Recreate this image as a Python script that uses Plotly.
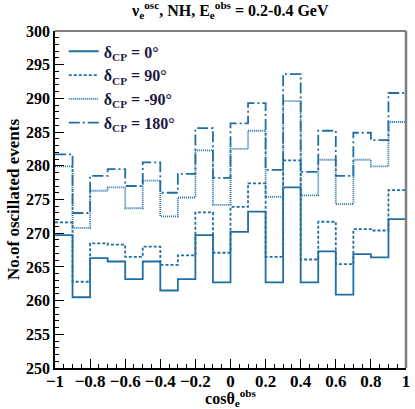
import numpy as np
import plotly.graph_objects as go

# Bin edges in cos(theta_e^obs): 20 bins of width 0.1
bin_edges = [round(-1 + 0.1 * i, 1) for i in range(21)]

# Oscillated nu_e event counts per bin for each delta_CP
events_dcp0 = [269.7, 260.5, 266.3, 265.8, 263.2, 265.8, 261.5, 263.2, 269.7, 262.7,
               270.2, 273.2, 262.7, 276.8, 262.7, 267.3, 260.9, 266.9, 266.4, 272.1]
events_dcp90 = [271.6, 262.8, 268.5, 268.3, 266.5, 268.0, 265.3, 266.7, 273.1, 267.1,
                273.9, 277.4, 266.5, 280.8, 266.1, 271.7, 265.4, 270.6, 270.4, 276.4]
events_dcpm90 = [279.9, 270.8, 276.3, 276.8, 273.7, 277.8, 272.5, 275.3, 282.3, 274.2,
                 282.5, 285.2, 275.4, 289.6, 275.6, 280.9, 274.3, 280.9, 279.9, 286.5]
events_dcp180 = [281.7, 273.0, 278.5, 279.5, 277.0, 280.5, 276.0, 278.8, 285.6, 278.2,
                 286.3, 289.3, 279.4, 293.6, 279.1, 285.2, 278.5, 284.9, 283.8, 290.8]

series_labels = ["δ<sub>CP</sub> = 0°", "δ<sub>CP</sub> = 90°",
                 "δ<sub>CP</sub> = -90°", "δ<sub>CP</sub> = 180°"]

line_color = "#1f6fa3"
serif = "Liberation Serif, Times New Roman, serif"
dash_styles = ["solid", "3px,2px", "1px,1px", "11px,3px,2px,3px"]

fig = go.Figure()
for i, (label, vals) in enumerate(zip(series_labels,
                                      [events_dcp0, events_dcp90, events_dcpm90, events_dcp180])):
    fig.add_trace(go.Scatter(
        x=bin_edges,
        y=list(vals) + [vals[-1]],
        mode="lines",
        line=dict(shape="hv", color=line_color, width=1.8, dash=dash_styles[i]),
        name=label,
        legendgroup=f"g{i}",
    ))

fig.update_layout(
    width=415, height=409,
    margin=dict(l=55, r=5, t=31, b=41),
    paper_bgcolor="white", plot_bgcolor="white",
    title=dict(
        text="ν<sub>e</sub><sup>osc</sup>, NH, E<sub>e</sub><sup>obs</sup> = 0.2-0.4 GeV",
        x=0.555, xanchor="center", y=0.975, yanchor="middle",
        font=dict(family=serif, size=16, color="black", weight="bold"),
    ),
    showlegend=True,
    legend=dict(
        x=0.025, y=0.99, xanchor="left", yanchor="top",
        bgcolor="rgba(0,0,0,0)",
        font=dict(family=serif, size=16, color="#1a1a40", weight="bold"),
        tracegroupgap=0,
        itemwidth=30,
    ),
    xaxis=dict(
        range=[-1, 1], dtick=0.2, tick0=-1,
        ticks="inside", ticklen=9, tickwidth=1, tickcolor="black",
        minor=dict(dtick=0.05, ticks="inside", ticklen=4.5, tickcolor="black"),
        showline=True, linecolor="black", linewidth=1.5, mirror=False,
        showgrid=False, zeroline=False,
        ticklabelstandoff=-3,
        tickfont=dict(family=serif, size=17, color="black", weight="bold"),
        title=dict(text="cosθ<sub>e</sub><sup>obs</sup>", standoff=0,
                   font=dict(family=serif, size=16, color="black", weight="bold")),
    ),
    yaxis=dict(
        range=[250, 300], dtick=5, tick0=250,
        ticks="inside", ticklen=9, tickwidth=1, tickcolor="black",
        minor=dict(dtick=1, ticks="inside", ticklen=4.5, tickcolor="black"),
        showline=True, linecolor="black", linewidth=1.5, mirror=False,
        showgrid=False, zeroline=False,
        ticklabelstandoff=0,
        tickfont=dict(family=serif, size=16, color="black", weight="bold"),
        title=dict(text="No.of oscillated events", standoff=2,
                   font=dict(family=serif, size=17, color="black", weight="bold")),
    ),
)

# Frame: thin top edge and a grey right edge
fig.add_shape(type="line", xref="paper", yref="paper", x0=0, x1=1, y0=1, y1=1,
              line=dict(color="black", width=1))
fig.add_shape(type="line", xref="paper", yref="paper", x0=1, x1=1, y0=0, y1=1,
              line=dict(color="#7f7f7f", width=2.5))

fig.write_html("out.html")
